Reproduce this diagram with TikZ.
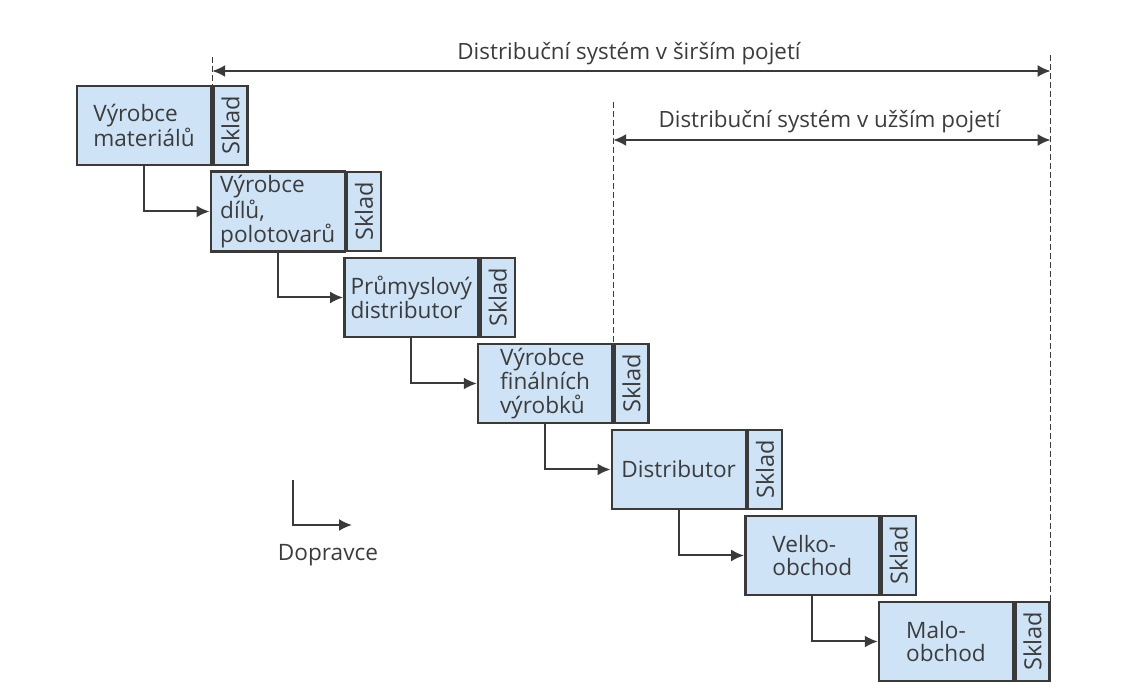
\documentclass[tikz,border=0pt]{standalone}
\usepackage{fontspec}
\setmainfont{Open Sans}
\usetikzlibrary{arrows.meta}

\definecolor{boxfill}{RGB}{206,228,246}
\definecolor{linegray}{RGB}{58,58,58}
\definecolor{textgray}{RGB}{60,60,60}

\tikzset{
  stage/.style={draw=linegray, line width=1.2pt, fill=boxfill, minimum width=67pt,
    minimum height=39.5pt, inner sep=2pt, align=left, text=textgray,
    font=\fontsize{11.3}{11.8}\selectfont},
  sklad/.style={draw=linegray, line width=1.2pt, fill=boxfill, rotate=90, anchor=north,
    minimum width=39.5pt, minimum height=17pt, inner sep=0pt, text=textgray,
    font=\fontsize{11.8}{12}\selectfont},
  flow/.style={draw=linegray, line width=1pt, -{Latex[length=6.5pt,width=6pt]}},
  span/.style={draw=linegray, line width=1pt,
    {Latex[length=6.5pt,width=6pt]}-{Latex[length=6.5pt,width=6pt]}},
  edge line/.style={draw=linegray, line width=0.7pt, dash pattern=on 3pt off 1.5pt},
  caption/.style={text=textgray, anchor=base, font=\fontsize{11.2}{12}\selectfont},
}

\begin{document}
\begin{tikzpicture}[x=0.5pt,y=-0.5pt]
\useasboundingbox (0,0) rectangle (1132,700);

% stages of the chain
\node[stage] (m1) at (144,125.5) {Výrobce\\materiálů};
\node[sklad] (s1) at (m1.east) {Sklad};
\node[stage] (m2) at (277.7,211.5) {Výrobce\\dílů,\\polotovarů};
\node[sklad] (s2) at (m2.east) {Sklad};
\node[stage] (m3) at (411.3,297.5) {Průmyslový\\distributor};
\node[sklad] (s3) at (m3.east) {Sklad};
\node[stage] (m4) at (545,383.5) {Výrobce\\finálních\\výrobků};
\node[sklad] (s4) at (m4.east) {Sklad};
\node[stage] (m5) at (678.7,469.5) {Distributor};
\node[sklad] (s5) at (m5.east) {Sklad};
\node[stage] (m6) at (812.3,555.5) {Velko-\\obchod};
\node[sklad] (s6) at (m6.east) {Sklad};
\node[stage] (m7) at (946,641.5) {Malo-\\obchod};
\node[sklad] (s7) at (m7.east) {Sklad};

\draw[flow] (m1.south) |- (m2.west);
\draw[flow] (m2.south) |- (m3.west);
\draw[flow] (m3.south) |- (m4.west);
\draw[flow] (m4.south) |- (m5.west);
\draw[flow] (m5.south) |- (m6.west);
\draw[flow] (m6.south) |- (m7.west);

% system limits
\coordinate (wideL) at (m1.north east |- 0,57);
\coordinate (narrowL) at (m4.north east |- 0,102);
\coordinate (wideR) at (s7.south east |- 0,55);

\draw[edge line] (wideL) -- (m1.north east);
\draw[edge line] (narrowL) -- (m4.north east);
\draw[edge line] (wideR) -- (s7.south east);

\coordinate (wideA) at (wideL |- 0,71);
\coordinate (wideB) at (wideR |- 0,71);
\coordinate (narrowA) at (narrowL |- 0,140);
\coordinate (narrowB) at (wideR |- 0,140);
\draw[span] (wideA) -- (wideB);
\draw[span] (narrowA) -- (narrowB);

\node[caption] (wide) at (629,60) {Distribuční systém v širším pojetí};
\node[caption] (narrow) at (829.5,128) {Distribuční systém v užším pojetí};

% legend
\coordinate (legTop) at (293,480);
\coordinate (legEnd) at (352,525);
\draw[flow] (legTop) |- (legEnd);
\node[text=textgray, font=\fontsize{11.3}{12}\selectfont] (dop) at (328,555) {Dopravce};
\end{tikzpicture}
\end{document}
